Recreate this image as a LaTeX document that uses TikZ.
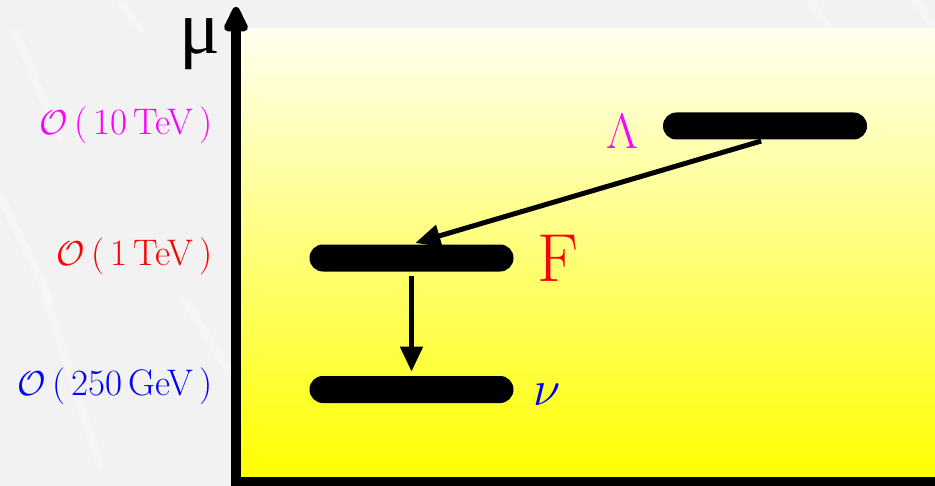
\documentclass[tikz,border=0pt]{standalone}
\usepackage{fontspec}
\usetikzlibrary{arrows.meta}
\newfontfamily\greekserif{Liberation Serif}
\definecolor{slidegrey}{HTML}{F2F2F2}
\definecolor{lblmag}{RGB}{255,0,255}
\definecolor{lblred}{RGB}{255,0,0}
\definecolor{lblblue}{RGB}{0,0,255}
\tikzset{
  lvl/.style={fill=black, rounded corners=6.7pt, minimum width=102pt, minimum height=13.5pt, inner sep=0pt},
  decay/.style={-{Triangle[length=12.5pt, width=11pt]}, line width=2.5pt},
  scalelbl/.style={font=\fontsize{18.5}{22}\selectfont, anchor=east, inner sep=0pt},
  bigsym/.style={font=\fontsize{34}{40}\selectfont, anchor=base west, inner sep=0pt},
  streak/.style={white, opacity=.3, line width=4pt, line cap=round},
}
\begin{document}
\begin{tikzpicture}[x=0.5pt, y=-0.5pt]
  \useasboundingbox (0,0) rectangle (935,486);
  % slide background with faint streaks
  \fill[slidegrey] (0,0) rectangle (935,486);
  \draw[streak] (15,30) -- (60,140);
  \draw[streak] (0,195) -- (50,300);
  \draw[streak] (45,295) -- (100,465);
  \draw[streak] (185,300) -- (228,370);
  \draw[streak] (120,0) -- (140,30);
  \draw[streak] (810,0) -- (828,28);
  \draw[streak] (915,0) -- (932,25);
  % energy panel
  \shade[top color=yellow!6, bottom color=yellow] (241,29) rectangle (935,478);
  % scale axis
  \draw[line width=5pt, {Triangle[length=15pt, width=13pt, round]}-] (236,7) -- (236,482) -- (950,482);
  \node[anchor=base east, inner sep=0pt, font=\fontsize{38}{42}\selectfont\greekserif] (mu) at (221,54) {μ};
  % scale labels
  \node[scalelbl, lblmag] (s10) at (213,125) {$\mathcal{O}$\,(\,10\,TeV\,)};
  \node[scalelbl, lblred] (s1) at (213,256) {$\mathcal{O}$\,(\,1\,TeV\,)};
  \node[scalelbl, lblblue] (s250) at (213,386) {$\mathcal{O}$\,(\,250\,GeV\,)};
  % levels
  \node[lvl] (lam) at (765,126) {};
  \node[lvl] (F) at (411.5,258) {};
  \node[lvl] (nu) at (411.5,389.5) {};
  \node[bigsym, lblmag, font=\fontsize{36}{40}\selectfont] (lamlbl) at (606,149) {$\Lambda$};
  \node[bigsym, lblred] (Flbl) at (537,281) {F};
  \node[bigsym, lblblue] (nulbl) at (533,405) {$\nu$};
  % decays
  \draw[decay, shorten <=2pt, shorten >=2pt] (lam.south) -- (F.north);
  \draw[decay, shorten <=2pt, shorten >=2pt] (F.south) -- (nu.north);
\end{tikzpicture}
\end{document}
